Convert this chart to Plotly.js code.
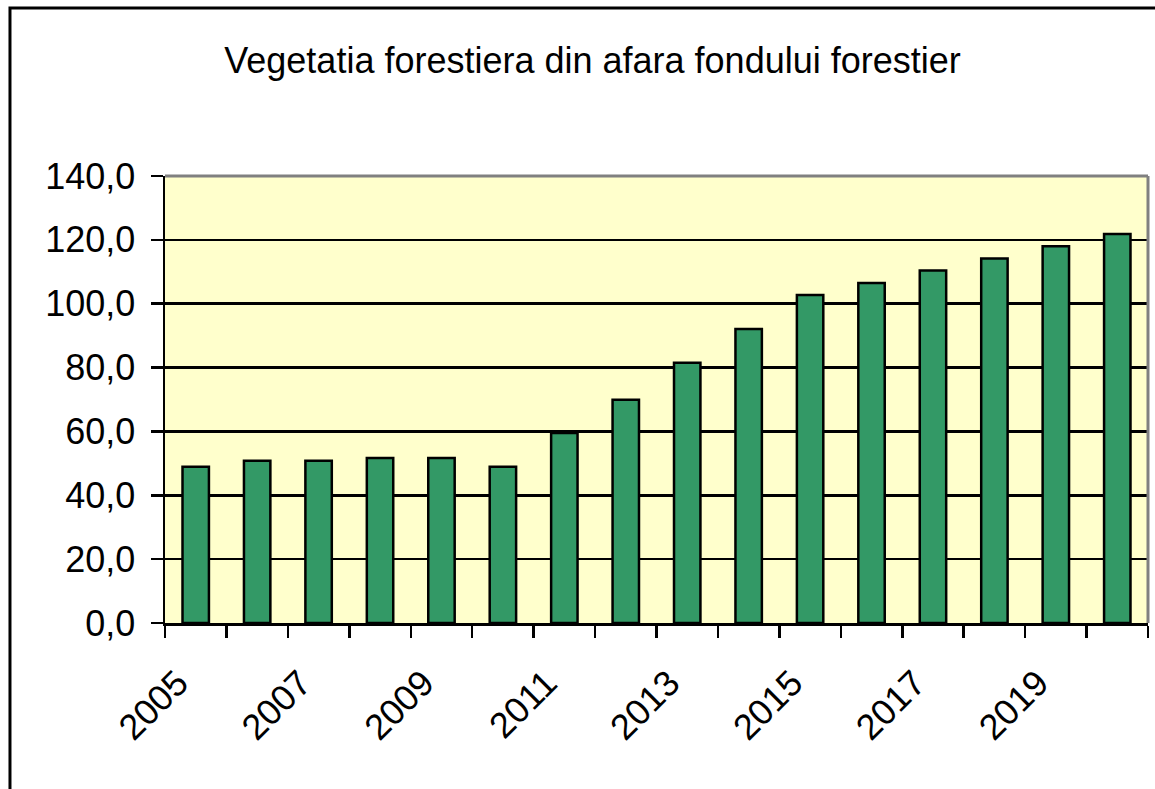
<!DOCTYPE html>
<html>
<head>
<meta charset="utf-8">
<script src="https://cdn.plot.ly/plotly-3.0.1.min.js"></script>
<style>
  html, body { margin: 0; padding: 0; background: #ffffff; }
  #chart { width: 1155px; height: 789px; }
</style>
</head>
<body>
<div id="chart"></div>
<script>
const years = [2005, 2006, 2007, 2008, 2009, 2010, 2011, 2012, 2013, 2014, 2015, 2016, 2017, 2018, 2019, 2020];
const values = [48.9, 50.8, 50.8, 51.7, 51.7, 48.9, 59.5, 69.9, 81.5, 92.1, 102.7, 106.5, 110.4, 114.2, 118.0, 121.8];
const labelYears = years.filter((y, i) => i % 2 === 0);
const labelText = labelYears.map(String);
const titleText = 'Vegetatia forestiera din afara fondului forestier';

const FONT = 'Liberation Sans, Arial, sans-serif';

const trace = {
  type: 'bar',
  x: years,
  y: values,
  width: 0.43,
  marker: { color: '#339966', line: { color: '#000000', width: 2.5 } },
  hoverinfo: 'x+y'
};

const layout = {
  width: 1155,
  height: 789,
  margin: { l: 165, r: 7, t: 176, b: 166 },
  paper_bgcolor: '#ffffff',
  plot_bgcolor: '#FFFFCC',
  separators: ', ',
  showlegend: false,
  font: { family: FONT, color: '#000000', size: 36 },
  title: {
    text: titleText,
    font: { family: FONT, size: 36, color: '#000000' },
    xref: 'container', yref: 'container',
    x: 0.513, xanchor: 'center',
    y: 0.924, yanchor: 'middle'
  },
  xaxis: {
    type: 'linear',
    range: [years[0] - 0.5, years[years.length - 1] + 0.5],
    tickmode: 'array',
    tickvals: labelYears,
    ticktext: labelText,
    tickangle: -45,
    ticks: '',
    showgrid: false,
    zeroline: false,
    showline: true,
    linecolor: '#000000',
    linewidth: 2.5,
    tickfont: { family: FONT, size: 36, color: '#000000' },
    ticklabelstandoff: 22,
    ticklabelshift: -18,
    minor: {
      tickmode: 'linear',
      tick0: years[0] - 0.5,
      dtick: 1,
      ticks: 'outside',
      ticklen: 12,
      tickwidth: 2.5,
      tickcolor: '#000000',
      showgrid: false
    }
  },
  yaxis: {
    range: [0, 140],
    dtick: 20,
    tick0: 0,
    tickformat: '.1f',
    ticks: 'outside',
    ticklen: 12,
    tickwidth: 2.5,
    tickcolor: '#000000',
    showgrid: true,
    gridcolor: '#000000',
    gridwidth: 2.5,
    zeroline: false,
    showline: true,
    linecolor: '#000000',
    linewidth: 2.5,
    tickfont: { family: FONT, size: 36, color: '#000000' },
    ticklabelstandoff: 8
  },
  shapes: [
    { type: 'line', xref: 'paper', yref: 'paper', x0: 0, x1: 1, y0: 1, y1: 1,
      line: { color: '#808080', width: 3 } },
    { type: 'line', xref: 'paper', yref: 'paper', x0: 1, x1: 1, y0: 0, y1: 1,
      line: { color: '#808080', width: 3 } },
    { type: 'rect', xref: 'paper', yref: 'paper', x0: -0.1577, x1: 1.02, y0: -0.40, y1: 1.3758,
      line: { color: '#000000', width: 3 }, fillcolor: 'rgba(0,0,0,0)', layer: 'above' }
  ]
};

Plotly.newPlot('chart', [trace], layout, { displayModeBar: false, staticPlot: true });
</script>
</body>
</html>
